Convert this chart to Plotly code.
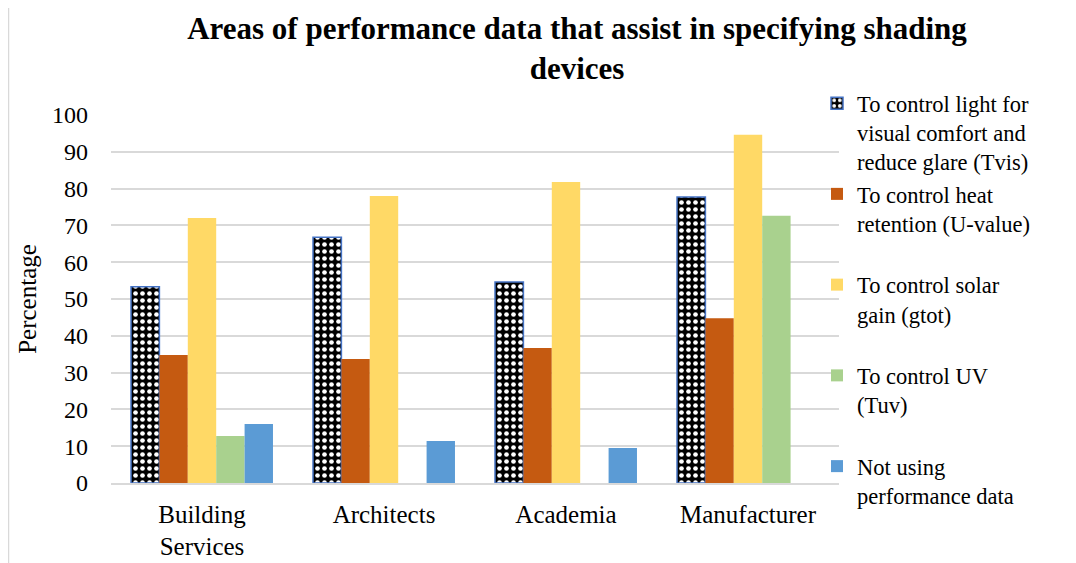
import plotly.graph_objects as go

# Chart data
categories = ["Building<br>Services", "Architects", "Academia", "Manufacturer"]
series_names = [
    "To control light for<br>visual comfort and<br>reduce glare (Tvis)",
    "To control heat<br>retention (U-value)<br> ",
    "To control solar<br>gain (gtot)<br> ",
    "To control UV<br>(Tuv)<br> ",
    "Not using<br>performance data",
]
tvis = [53.3, 66.8, 54.6, 77.7]
u_value = [34.8, 33.7, 36.7, 44.8]
gtot = [72.0, 78.0, 81.8, 94.6]
tuv = [12.8, 0, 0, 72.6]
not_using = [16.0, 11.4, 9.5, 0]

_FONT = "Liberation Serif, Times New Roman, serif"
_TEXT = "#000000"
_GRID = "#d9d9d9"

# The page adds an 8px body margin, so figure px = page px - 8
OFF = 8
W, H = 1076, 563
ML = 111 - OFF
MT = 115 - OFF
PLOT_R = 839 - OFF
PLOT_B = 483 - OFF
MR, MB = W - PLOT_R, H - PLOT_B
PW, PH = PLOT_R - ML, PLOT_B - MT


def px_x(px):
    return (px - OFF - ML) / PW


def px_y(py):
    return (PLOT_B - (py - OFF)) / PH


fig = go.Figure()

fig.add_trace(go.Bar(
    x=categories, y=tvis, name=series_names[0], legendgroup="g0",
    marker=dict(
        color="#000000",
        line=dict(color="#4472c4", width=1.5),
        pattern=dict(shape=".", fgcolor="#ffffff", bgcolor="#000000",
                     fillmode="replace", size=7, solidity=0.35),
    ),
))
for i, (vals, name, color) in enumerate([
    (u_value, series_names[1], "#c55a11"),
    (gtot, series_names[2], "#ffd966"),
    (tuv, series_names[3], "#a9d18e"),
    (not_using, series_names[4], "#5b9bd5"),
], start=1):
    fig.add_trace(go.Bar(x=categories, y=vals, name=name, legendgroup=f"g{i}",
                         marker=dict(color=color, line=dict(width=0))))

fig.update_layout(
    width=W, height=H,
    barmode="group", bargap=0.22, bargroupgap=0,
    paper_bgcolor="#ffffff", plot_bgcolor="#ffffff",
    font=dict(family=_FONT, color=_TEXT, size=24),
    margin=dict(l=ML, r=MR, t=MT, b=MB, autoexpand=False),
    title=dict(
        text="<b>Areas of performance data that assist in specifying shading<br>devices</b>",
        font=dict(family=_FONT, size=31, color=_TEXT),
        x=(577 - OFF) / W, xanchor="center", y=1 - 31 / H, yanchor="top",
    ),
    legend=dict(
        x=px_x(817), xanchor="left", y=px_y(82), yanchor="top",
        font=dict(family=_FONT, size=22.5, color=_TEXT),
        valign="top", itemwidth=30, tracegroupgap=0, maxheight=1000,
        bgcolor="rgba(0,0,0,0)",
    ),
    showlegend=True,
)

fig.update_xaxes(
    showline=True, linecolor=_GRID, linewidth=1.5,
    showgrid=False, ticks="", tickfont=dict(size=25), ticklabelstandoff=8,
)
fig.update_yaxes(
    range=[0, 100], dtick=10, showgrid=True, gridcolor=_GRID, gridwidth=1.5,
    zeroline=False, showline=False, ticks="", tickfont=dict(size=24),
    ticklabelstandoff=22,
    title=dict(text="Percentage", font=dict(size=25), standoff=8),
)

# Light grey chart-area border
fig.add_shape(
    type="rect", xref="paper", yref="paper",
    x0=px_x(8.5), x1=px_x(1074), y0=px_y(580), y1=px_y(4),
    line=dict(color="#d9d9d9", width=1.5), layer="below",
)

fig.write_html("out.html")
